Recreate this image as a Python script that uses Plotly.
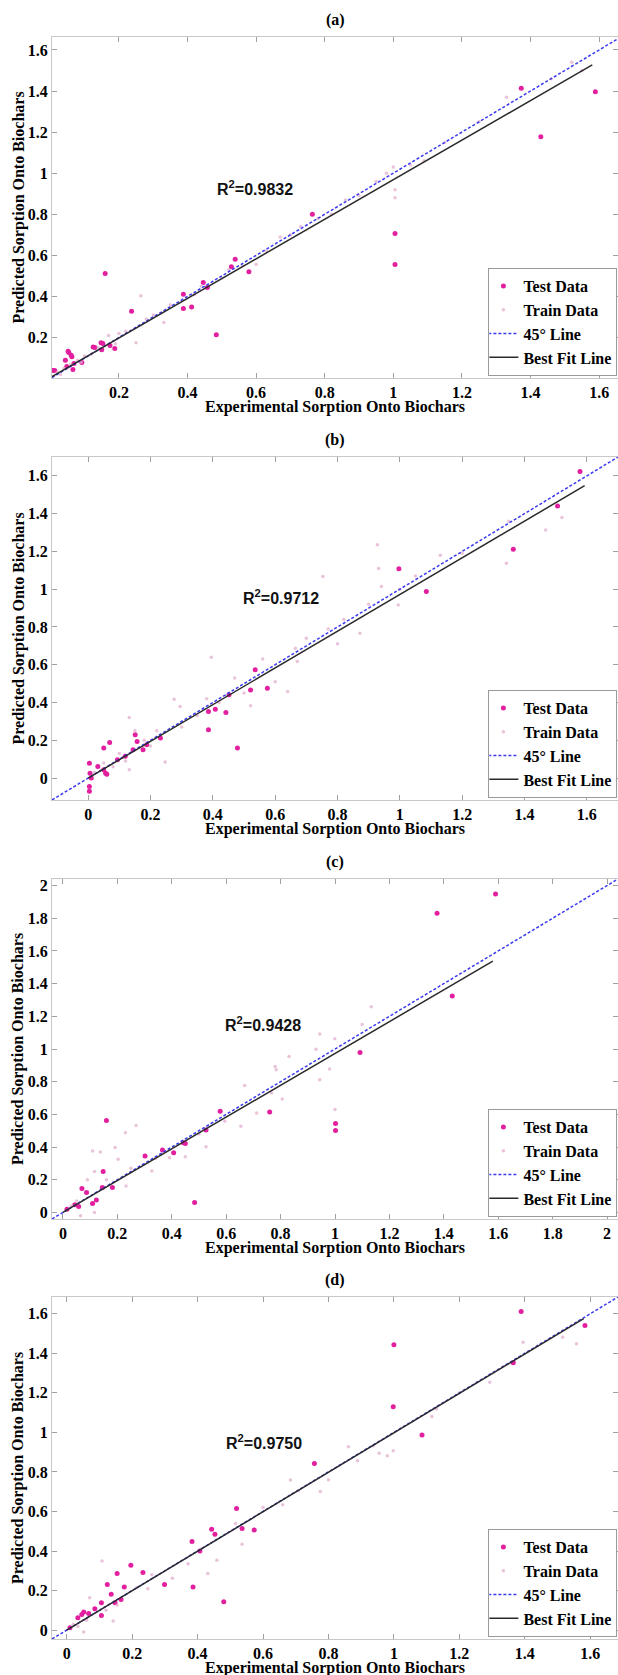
import plotly.graph_objects as go

W, H = 618, 1675

# ---------------- data ----------------
# panel (a)
a_test_x = [1.373, 1.589, 1.43, 0.764, 1.005, 1.005, 0.539, 0.528, 0.579, 0.16, 0.446, 0.458, 0.388, 0.388,
            0.412, 0.237, 0.484, 0.052, 0.061, 0.148, 0.125, 0.044, 0.008, 0.013, 0.054, 0.063, 0.069, 0.066,
            0.048, 0.092, 0.13, 0.15, 0.153, 0.188, 0.174]
a_test_y = [1.413, 1.397, 1.178, 0.80, 0.707, 0.555, 0.581, 0.544, 0.52, 0.512, 0.468, 0.443, 0.411, 0.341,
            0.349, 0.328, 0.214, 0.133, 0.114, 0.174, 0.154, 0.089, 0.04, 0.039, 0.127, 0.107, 0.073, 0.044,
            0.059, 0.078, 0.151, 0.141, 0.171, 0.146, 0.161]
a_train_x = [0.02, 0.03, 0.04, 0.06, 0.08, 0.09, 0.1, 0.12, 0.14, 0.17, 0.19, 0.2, 0.22, 0.25, 0.264, 0.28, 0.3,
             0.331, 0.35, 0.42, 0.44, 0.5, 0.52, 0.56, 0.6, 0.63, 0.67, 0.7, 0.73, 0.78, 0.82, 0.86, 0.9, 0.95,
             0.98, 1.005, 1.005, 1.0, 1.05, 1.09, 1.15, 1.25, 1.33, 1.46, 1.52, 1.55]
a_train_y = [0.03, 0.02, 0.05, 0.07, 0.09, 0.08, 0.11, 0.12, 0.15, 0.21, 0.17, 0.22, 0.23, 0.175, 0.403, 0.29, 0.31,
             0.273, 0.36, 0.41, 0.45, 0.49, 0.53, 0.55, 0.557, 0.62, 0.69, 0.7, 0.74, 0.78, 0.8, 0.87, 0.89, 0.96,
             1.0, 0.92, 0.88, 1.03, 1.04, 1.06, 1.15, 1.25, 1.37, 1.46, 1.54, 1.5]
a_diag = [0.005, 1.655]
a_fit_x = [0.005, 1.58]
a_fit_y = [0.01, 1.527]
a_r2 = "R<sup>2</sup>=0.9832"

# panel (b)
b_test_x = [1.578, 1.506, 1.364, 0.997, 1.085, 0.536, 0.575, 0.521, 0.452, 0.408, 0.442, 0.386, 0.386, 0.479,
            0.151, 0.157, 0.176, 0.232, 0.05, 0.069, 0.05, 0.056, 0.004, 0.004, 0.004, 0.006, 0.094, 0.119,
            0.144, 0.031, 0.188, 0.01, 0.06]
b_test_y = [1.623, 1.441, 1.212, 1.108, 0.988, 0.573, 0.476, 0.467, 0.441, 0.365, 0.347, 0.353, 0.256, 0.159,
            0.229, 0.194, 0.15, 0.212, 0.159, 0.189, 0.044, 0.026, 0.079, -0.044, -0.07, 0.026, 0.097, 0.115,
            0.15, 0.062, 0.176, 0.0, 0.02]
b_train_x = [0.02, 0.05, 0.08, 0.1, 0.12, 0.132, 0.132, 0.15, 0.18, 0.2, 0.22, 0.247, 0.276, 0.295, 0.3, 0.35,
             0.38, 0.395, 0.42, 0.47, 0.5, 0.521, 0.56, 0.6, 0.64, 0.665, 0.671, 0.7, 0.753, 0.77, 0.8, 0.82,
             0.872, 0.9, 0.928, 0.932, 0.941, 0.995, 1.0, 1.05, 1.13, 1.2, 1.342, 1.35, 1.468, 1.52]
b_train_y = [0.03, 0.08, 0.06, 0.13, 0.09, 0.321, 0.044, 0.25, 0.2, 0.17, 0.25, 0.085, 0.418, 0.379, 0.27, 0.33,
             0.42, 0.64, 0.4, 0.53, 0.45, 0.383, 0.63, 0.51, 0.459, 0.688, 0.617, 0.74, 1.067, 0.79, 0.711, 0.84,
             0.767, 0.92, 1.235, 1.11, 1.014, 0.917, 1.0, 1.07, 1.18, 1.19, 1.138, 1.36, 1.314, 1.38]
b_diag = [-0.116, 1.70]
b_fit_x = [0.0, 1.593]
b_fit_y = [0.0, 1.548]
b_r2 = "R<sup>2</sup>=0.9712"

# panel (c)
c_test_x = [1.59, 1.375, 1.431, 1.092, 1.002, 1.002, 0.76, 0.578, 0.526, 0.45, 0.407, 0.366, 0.302, 0.16,
            0.148, 0.484, 0.07, 0.109, 0.123, 0.044, 0.058, 0.015, 0.182, 0.145, 0.087, 0.443]
c_test_y = [1.949, 1.831, 1.324, 0.979, 0.544, 0.502, 0.615, 0.619, 0.504, 0.422, 0.365, 0.382, 0.345, 0.562,
            0.25, 0.061, 0.146, 0.055, 0.077, 0.047, 0.037, 0.02, 0.152, 0.152, 0.122, 0.426]
c_train_x = [1.133, 0.944, 0.999, 0.93, 0.98, 0.944, 0.831, 0.78, 0.806, 0.668, 0.595, 0.526, 0.269, 0.23,
             0.192, 0.109, 0.138, 0.116, 0.203, 0.327, 0.392, 0.45, 0.232, 0.116, 0.065, 0.712, 0.654, 0.767,
             0.784, 0.03, 0.05, 0.09, 0.16, 0.25, 0.34, 0.5, 1.1, 1.0]
c_train_y = [1.259, 1.092, 1.062, 0.999, 0.877, 0.812, 0.954, 0.893, 0.694, 0.776, 0.558, 0.402, 0.532, 0.487,
             0.398, 0.376, 0.37, 0.25, 0.325, 0.254, 0.335, 0.341, 0.162, 0.0, -0.02, 0.609, 0.528, 0.731,
             0.873, 0.04, 0.07, 0.2, 0.2, 0.27, 0.33, 0.48, 1.15, 0.63]
c_diag = [-0.04, 2.04]
c_fit_x = [0.0, 1.58]
c_fit_y = [0.0, 1.537]
c_r2 = "R<sup>2</sup>=0.9428"

# panel (d)
d_test_x = [1.389, 1.584, 1.0, 1.365, 0.998, 1.086, 0.757, 0.519, 0.536, 0.573, 0.443, 0.453, 0.383, 0.407,
            0.386, 0.48, 0.299, 0.233, 0.196, 0.124, 0.154, 0.136, 0.166, 0.148, 0.176, 0.106, 0.086, 0.067,
            0.046, 0.034, 0.052, 0.01, 0.106]
d_test_y = [1.612, 1.541, 1.444, 1.352, 1.13, 0.987, 0.843, 0.615, 0.514, 0.507, 0.51, 0.485, 0.448, 0.4,
            0.218, 0.144, 0.231, 0.291, 0.328, 0.231, 0.286, 0.181, 0.155, 0.139, 0.218, 0.139, 0.108, 0.084,
            0.079, 0.063, 0.091, 0.012, 0.074]
d_train_x = [1.395, 1.293, 1.558, 1.516, 1.116, 1.13, 0.955, 0.98, 0.998, 0.937, 0.861, 0.889, 0.708, 0.775,
             0.684, 0.66, 0.516, 0.536, 0.459, 0.431, 0.371, 0.323, 0.248, 0.108, 0.07, 0.052, 0.034, 0.142,
             0.214, 0.154, 0.02, 0.06, 0.12, 0.26, 0.6, 0.8, 1.2]
d_train_y = [1.456, 1.254, 1.448, 1.482, 1.08, 1.118, 0.894, 0.882, 0.907, 0.933, 0.928, 0.857, 0.705, 0.701,
             0.759, 0.634, 0.539, 0.434, 0.353, 0.286, 0.336, 0.262, 0.209, 0.35, 0.164, -0.01, 0.02, 0.046,
             0.215, 0.127, 0.03, 0.05, 0.1, 0.28, 0.62, 0.76, 1.2]
d_diag = [-0.045, 1.685]
d_fit_x = [0.0, 1.58]
d_fit_y = [0.0, 1.576]
d_r2 = "R<sup>2</sup>=0.9750"

panel_titles = ["(a)", "(b)", "(c)", "(d)"]
x_title = "Experimental Sorption Onto Biochars"
y_title = "Predicted Sorption Onto Biochars"
legend_names = ["Test Data", "Train Data", "45° Line", "Best Fit Line"]

# ---------------- layout helpers ----------------
panels = [
    dict(test=(a_test_x, a_test_y), train=(a_train_x, a_train_y), diag=a_diag, fit=(a_fit_x, a_fit_y),
         r2=a_r2, r2pos=(0.48, 0.93), rng_x=[0.005, 1.655], rng_y=[0.003, 1.663], top=37, bot=378),
    dict(test=(b_test_x, b_test_y), train=(b_train_x, b_train_y), diag=b_diag, fit=(b_fit_x, b_fit_y),
         r2=b_r2, r2pos=(0.49, 0.96), rng_x=[-0.116, 1.70], rng_y=[-0.116, 1.70], top=457, bot=800),
    dict(test=(c_test_x, c_test_y), train=(c_train_x, c_train_y), diag=c_diag, fit=(c_fit_x, c_fit_y),
         r2=c_r2, r2pos=(0.59, 1.15), rng_x=[-0.04, 2.04], rng_y=[-0.04, 2.04], top=879, bot=1219),
    dict(test=(d_test_x, d_test_y), train=(d_train_x, d_train_y), diag=d_diag, fit=(d_fit_x, d_fit_y),
         r2=d_r2, r2pos=(0.48, 0.95), rng_x=[-0.045, 1.685], rng_y=[-0.045, 1.685], top=1297, bot=1639),
]

SERIF = "Liberation Serif"
X0 = 52 / W
fig = go.Figure()
layout = dict(template="none", width=W, height=H, margin=dict(l=0, r=0, t=0, b=0, autoexpand=False),
              paper_bgcolor="white", plot_bgcolor="white",
              font=dict(family=SERIF, size=16, color="black", weight="bold"),
              annotations=[])

TEST_COL = "#e2209f"
TRAIN_COL = "rgba(225,175,205,0.75)"
DIAG_COL = "#3a3af0"
FIT_COL = "#2a2a2a"

for i, p in enumerate(panels):
    n = "" if i == 0 else str(i + 1)
    xa, ya = "x" + n, "y" + n
    lg = "legend" + n
    fig.add_trace(go.Scatter(x=p["test"][0], y=p["test"][1], mode="markers", name=legend_names[0],
                             marker=dict(color=TEST_COL, size=5), xaxis=xa, yaxis=ya, legend=lg))
    fig.add_trace(go.Scatter(x=p["train"][0], y=p["train"][1], mode="markers", name=legend_names[1],
                             marker=dict(color=TRAIN_COL, size=3.5), xaxis=xa, yaxis=ya, legend=lg))
    fig.add_trace(go.Scatter(x=p["diag"], y=p["diag"], mode="lines", name=legend_names[2],
                             line=dict(color=DIAG_COL, width=1.5, dash="3px,2px"), xaxis=xa, yaxis=ya, legend=lg))
    fig.add_trace(go.Scatter(x=p["fit"][0], y=p["fit"][1], mode="lines", name=legend_names[3],
                             line=dict(color=FIT_COL, width=1.5), xaxis=xa, yaxis=ya, legend=lg))

    y_lo = 1 - p["bot"] / H
    y_hi = 1 - p["top"] / H
    axis_common = dict(showline=True, linecolor="#c8c8c8", linewidth=1, mirror="ticks", ticks="inside",
                       ticklen=5, tickcolor="#a0a0a0", showgrid=False, zeroline=False, tick0=0, dtick=0.2,
                       automargin=False, ticklabeloverflow="allow",
                       tickfont=dict(family=SERIF, size=16, color="black", weight="bold"))
    layout["xaxis" + n] = dict(domain=[X0, 1.0], range=p["rng_x"], anchor=ya, **axis_common)
    layout["yaxis" + n] = dict(domain=[y_lo, y_hi], range=p["rng_y"], anchor=xa, **axis_common)
    layout[lg] = dict(x=0.999, xanchor="right", y=1 - (p["bot"] - 2) / H, yanchor="bottom",
                      bgcolor="white", bordercolor="#9a9a9a", borderwidth=1, itemwidth=30,
                      font=dict(family=SERIF, size=16, color="black", weight="bold"),
                      tracegroupgap=0, indentation=-6)

    # texts
    layout["annotations"].append(dict(text=p["r2"], x=p["r2pos"][0], y=p["r2pos"][1], xref=xa, yref=ya,
                                      xanchor="left", yanchor="middle", showarrow=False,
                                      font=dict(family="Liberation Sans", size=16, color="#111", weight="bold")))
    layout["annotations"].append(dict(text=panel_titles[i], x=(52 + 618) / 2 / W, y=1 - (p["top"] - 17) / H,
                                      xref="paper", yref="paper", xanchor="center", yanchor="middle",
                                      showarrow=False, font=dict(family=SERIF, size=16, weight="bold")))
    layout["annotations"].append(dict(text=x_title, x=(52 + 618) / 2 / W, y=1 - (p["bot"] + 29) / H,
                                      xref="paper", yref="paper", xanchor="center", yanchor="middle",
                                      showarrow=False, font=dict(family=SERIF, size=16, weight="bold")))
    layout["annotations"].append(dict(text=y_title, x=18 / W, y=1 - (p["top"] + p["bot"]) / 2 / H,
                                      xref="paper", yref="paper", xanchor="center", yanchor="middle",
                                      textangle=-90, showarrow=False,
                                      font=dict(family=SERIF, size=16, weight="bold")))

fig.update_layout(**layout)
fig.write_html("out.html", config={"displayModeBar": False},
               post_script="document.body.style.margin='0px';document.body.style.overflow='hidden';")
